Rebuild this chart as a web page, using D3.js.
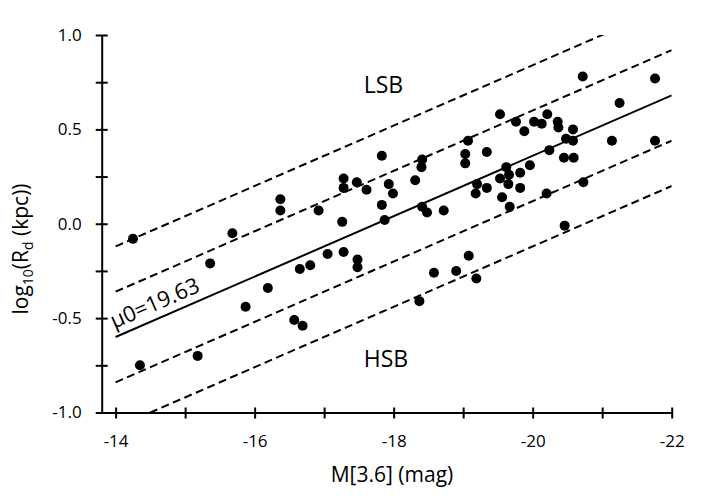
<!DOCTYPE html>
<html>
<head>
<meta charset="utf-8">
<script src="https://cdn.jsdelivr.net/npm/d3@7"></script>
<style>
  body { margin: 0; background: #fff; }
  svg text { font-family: "Open Sans", sans-serif; fill: #000; }
</style>
</head>
<body>
<div id="chart"></div>
<script>
// absolute magnitude M[3.6] and log10 disc scale length
const mag = [
  -14.25, -14.35, -15.36, -15.18, -15.68, -15.87, -16.19, -16.37, -16.37, -16.57,
  -16.69, -16.65, -16.80, -16.92, -17.05, -17.26, -17.28, -17.28, -17.28, -17.47,
  -17.48, -17.48, -17.61, -17.83, -17.83, -17.87, -17.93, -17.99, -18.31, -18.37,
  -18.41, -18.40, -18.41, -18.48, -18.58, -18.72, -18.90, -19.03, -19.03, -19.07,
  -19.08, -19.19, -19.18, -19.20, -19.34, -19.34, -19.53, -19.53, -19.56, -19.62,
  -19.65, -19.66, -19.67, -19.76, -19.82, -19.82, -19.88, -19.96, -20.02, -20.13,
  -20.20, -20.21, -20.24, -20.36, -20.37, -20.45, -20.46, -20.48, -20.58, -20.58,
  -20.59, -20.72, -20.73, -21.14, -21.25, -21.76, -21.76
]
const logRd = [
  -0.08, -0.75, -0.21, -0.70, -0.05, -0.44, -0.34, 0.13, 0.07, -0.51,
  -0.54, -0.24, -0.22, 0.07, -0.16, 0.01, -0.15, 0.24, 0.19, 0.22,
  -0.19, -0.23, 0.18, 0.36, 0.10, 0.02, 0.21, 0.16, 0.23, -0.41,
  0.34, 0.30, 0.09, 0.06, -0.26, 0.07, -0.25, 0.37, 0.32, 0.44,
  -0.17, -0.29, 0.16, 0.21, 0.38, 0.19, 0.58, 0.24, 0.14, 0.30,
  0.21, 0.26, 0.09, 0.54, 0.27, 0.19, 0.49, 0.31, 0.54, 0.53,
  0.16, 0.58, 0.39, 0.54, 0.51, 0.35, -0.01, 0.45, 0.50, 0.44,
  0.35, 0.78, 0.22, 0.44, 0.64, 0.77, 0.44
]

// constant surface brightness line (mu0 = 19.63) and its dashed offsets
const fitMag = [-14, -22]
const fitLog = [-0.60, 0.68]
const offsets = [0.48, 0.24, -0.24, -0.48]

const xTicks = [-14, -15, -16, -17, -18, -19, -20, -21, -22]
const yTicks = [-1, -0.75, -0.5, -0.25, 0, 0.25, 0.5, 0.75, 1]

const width = 704
const height = 503

const svg = d3.select('#chart')
              .append('svg')
              .attr('width', width)
              .attr('height', height)

const x = d3.scaleLinear()
            .domain([-13.8, -22])
            .range([101.7, 671.7])

const y = d3.scaleLinear()
            .domain([-1, 1])
            .range([412.5, 35])

svg.append('clipPath')
   .attr('id', 'plot')
   .append('rect')
   .attr('x', x(-13.8))
   .attr('y', y(1))
   .attr('width', x(-22) - x(-13.8))
   .attr('height', y(-1) - y(1))

const lines = svg.append('g').attr('clip-path', 'url(#plot)')
const line = d3.line().x(d => x(d[0])).y(d => y(d[1]))

offsets.forEach(off => {
    lines.append('path')
         .attr('d', line(fitMag.map((m, i) => [m, fitLog[i] + off])))
         .attr('fill', 'none')
         .attr('stroke', '#000')
         .attr('stroke-width', 2)
         .attr('stroke-dasharray', '8,4.5')
})

lines.append('path')
     .attr('d', line(fitMag.map((m, i) => [m, fitLog[i]])))
     .attr('fill', 'none')
     .attr('stroke', '#000')
     .attr('stroke-width', 2)

// axes
const xAxis = svg.append('g')
   .attr('transform', `translate(0, ${y(-1)})`)
   .call(d3.axisBottom(x)
           .tickValues(xTicks)
           .tickSize(6)
           .tickSizeOuter(0)
           .tickPadding(16)
           .tickFormat(d => d % 2 === 0 ? String(d) : ''))
xAxis.selectAll('.tick line').attr('y1', -5).attr('y2', 6)

const yAxis = svg.append('g')
   .attr('transform', `translate(${x(-13.8)}, 0)`)
   .call(d3.axisLeft(y)
           .tickValues(yTicks)
           .tickSize(6)
           .tickSizeOuter(0)
           .tickPadding(14)
           .tickFormat(d => Math.abs(d * 2 % 1) < 1e-9 ? d.toFixed(1) : ''))
yAxis.selectAll('.tick line').attr('x1', 6).attr('x2', -6)

svg.selectAll('.domain, .tick line')
   .attr('stroke', '#000')
   .attr('stroke-width', 2)

svg.selectAll('.tick text')
   .style('font-family', '"Open Sans", sans-serif')
   .style('font-size', '17px')
   .attr('fill', '#000')

// points
svg.selectAll('.dot')
   .data(mag.map((m, i) => ({ m, r: logRd[i] })))
   .enter().append('circle')
   .attr('class', 'dot')
   .attr('cx', d => x(d.m))
   .attr('cy', d => y(d.r))
   .attr('r', 5)
   .attr('fill', '#000')

// labels
const angle = Math.atan2(y(fitLog[1]) - y(fitLog[0]), x(fitMag[1]) - x(fitMag[0])) * 180 / Math.PI
svg.append('text')
   .attr('transform', `translate(${x(fitMag[0])}, ${y(fitLog[0])}) rotate(${angle})`)
   .attr('x', 2)
   .attr('y', -8)
   .style('font-size', '22px')
   .text('μ0=19.63')

svg.append('text')
   .attr('x', x(-17.57))
   .attr('y', y(0.694))
   .style('font-size', '23px')
   .text('LSB')

svg.append('text')
   .attr('x', x(-17.57))
   .attr('y', y(-0.759))
   .style('font-size', '23px')
   .text('HSB')

svg.append('text')
   .attr('x', 392)
   .attr('y', 481.5)
   .attr('text-anchor', 'middle')
   .style('font-size', '21px')
   .text('M[3.6] (mag)')

const yTitle = svg.append('text')
   .attr('transform', 'translate(28, 249) rotate(-90)')
   .attr('text-anchor', 'middle')
   .style('font-size', '21px')
yTitle.append('tspan').text('log')
yTitle.append('tspan').attr('dy', 5).style('font-size', '14px').text('10')
yTitle.append('tspan').attr('dy', -5).text('(R')
yTitle.append('tspan').attr('dy', 5).style('font-size', '14px').text('d')
yTitle.append('tspan').attr('dy', -5).text(' (kpc))')
</script>
</body>
</html>
